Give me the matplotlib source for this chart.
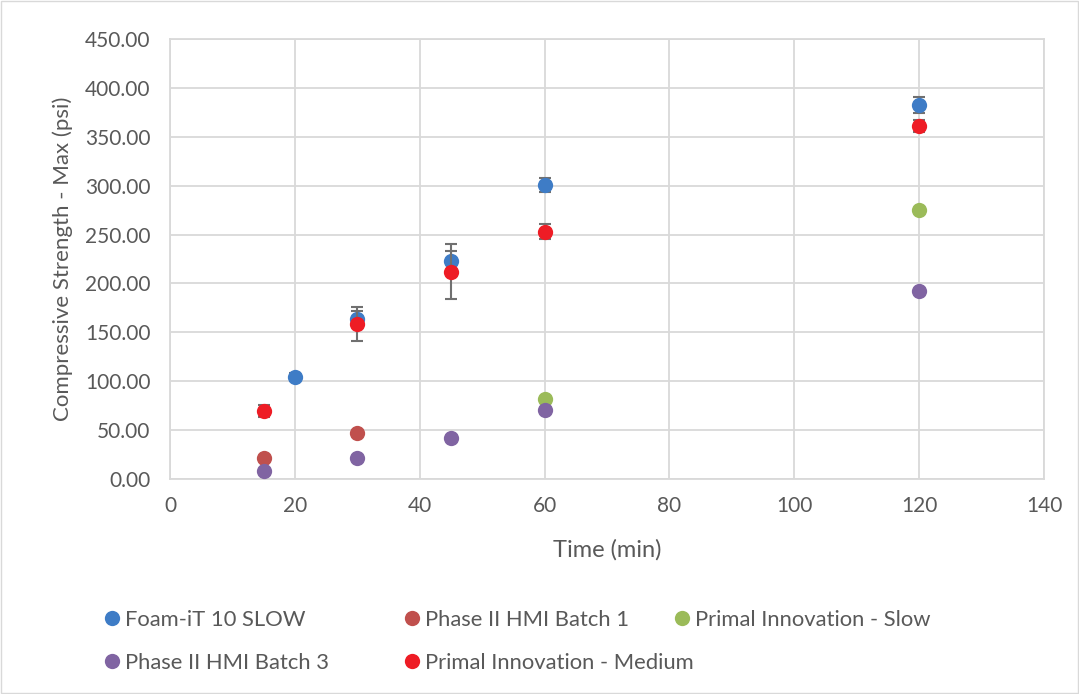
import matplotlib.pyplot as plt
from matplotlib.patches import Rectangle
from matplotlib.lines import Line2D

# data
foam_x = [20, 30, 45, 60, 120]
foam_y = [104.6, 163.5, 223.0, 300.7, 382.5]
foam_err = [4.0, 8.5, 10.0, 7.5, 8.0]

b1_x = [15, 30]
b1_y = [21.0, 47.0]

slow_x = [60, 120]
slow_y = [81.5, 275.0]

b3_x = [15, 30, 45, 60, 120]
b3_y = [8.5, 21.0, 42.0, 71.0, 192.0]

med_x = [15, 30, 45, 60, 120]
med_y = [69.5, 158.5, 212.0, 253.0, 361.0]
med_err = [6.0, 17.5, 28.0, 7.5, 6.0]

plt.rcParams['font.family'] = ['Lato', 'DejaVu Sans']
txt = '#595959'
grid_c = '#D9D9D9'
W, H = 1079, 694

fig = plt.figure(figsize=(W / 100, H / 100), dpi=100)
ax = fig.add_axes([170 / W, 1 - 479 / H, 874 / W, 440 / H])

ms = 11
ekw = dict(ecolor='#707070', elinewidth=1.5, capsize=4.5, capthick=1.5, linestyle='none')
colors = {'foam': '#3E7CC6', 'b1': '#C0504D', 'slow': '#9BBB59',
          'b3': '#8064A2', 'med': '#EE1C25'}

ax.errorbar(foam_x, foam_y, yerr=foam_err, marker='o', ms=ms,
            color=colors['foam'], mec='none', zorder=3, **ekw)
ax.plot(b1_x, b1_y, 'o', ms=ms, color=colors['b1'], mec='none', zorder=3)
ax.plot(slow_x, slow_y, 'o', ms=ms, color=colors['slow'], mec='none', zorder=3)
ax.plot(b3_x, b3_y, 'o', ms=ms, color=colors['b3'], mec='none', zorder=3)
ax.errorbar(med_x, med_y, yerr=med_err, marker='o', ms=ms,
            color=colors['med'], mec='none', zorder=4, **ekw)

ax.set_xlim(0, 140)
ax.set_ylim(0, 450)
ax.set_xticks(range(0, 141, 20))
ax.set_yticks(range(0, 451, 50))
ax.set_yticklabels([f'{v:.2f}' for v in range(0, 451, 50)])
ax.grid(True, color=grid_c, lw=1.3)
ax.set_axisbelow(True)
for s in ax.spines.values():
    s.set_color(grid_c)
    s.set_linewidth(1.3)
ax.tick_params(length=0, labelsize=15, labelcolor=txt)
ax.tick_params(axis='y', pad=14)
ax.tick_params(axis='x', pad=12)
ax.set_xlabel('Time (min)', fontsize=17, color=txt, labelpad=17)
ax.set_ylabel('Compressive Strength - Max (psi)', fontsize=16, color=txt, labelpad=9)

# legend entries placed like the Excel legend (two rows)
entries = [('Foam-iT 10 SLOW', 'foam', 113, 620),
           ('Phase II HMI Batch 1', 'b1', 413, 620),
           ('Primal Innovation - Slow', 'slow', 683, 620),
           ('Phase II HMI Batch 3', 'b3', 113, 663),
           ('Primal Innovation - Medium', 'med', 413, 663)]
for lab, key, px, py in entries:
    h = Line2D([], [], marker='o', ms=ms, color=colors[key], mec='none', linestyle='none')
    fig.legend([h], [lab], loc='center left',
               bbox_to_anchor=((px - 12) / W, 1 - py / H),
               frameon=False, fontsize=15.8, labelcolor=txt,
               handletextpad=0.1, handlelength=1.0, borderpad=0, borderaxespad=0)

fig.patches.append(Rectangle((0.001, 0.001), 0.998, 0.998, transform=fig.transFigure,
                             fill=False, edgecolor=grid_c, lw=1))

fig.savefig('out.png', dpi=100)
